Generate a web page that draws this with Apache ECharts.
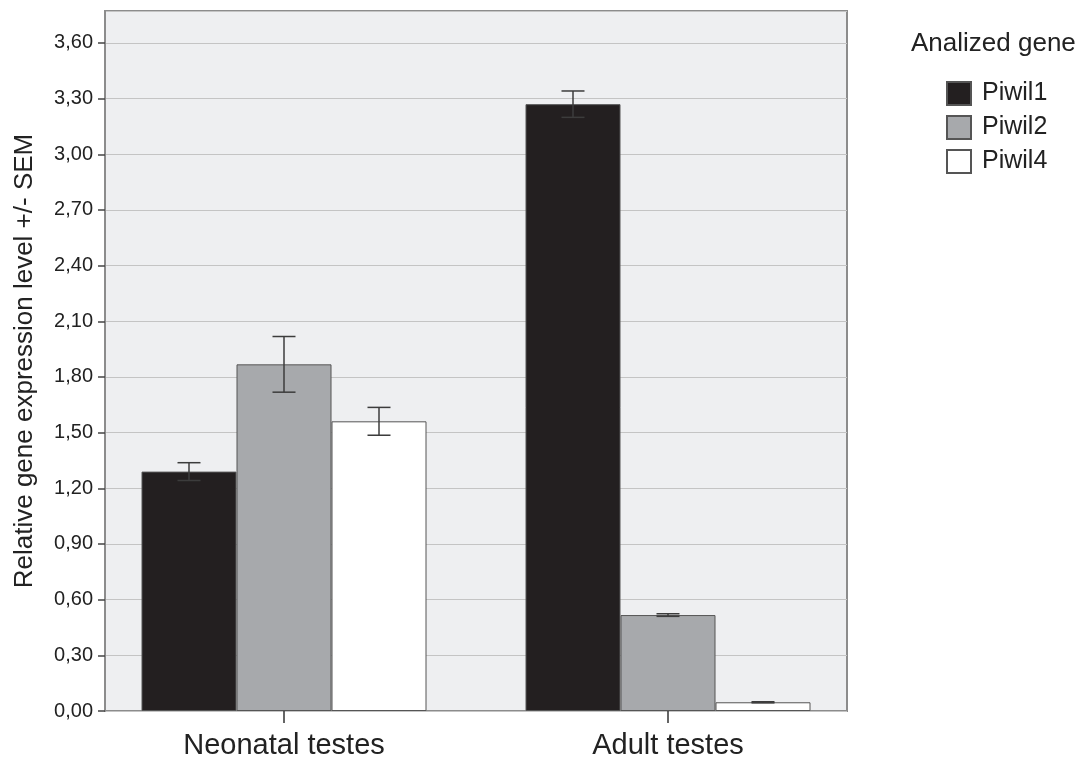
<!DOCTYPE html>
<html>
<head>
<meta charset="utf-8">
<script src="https://cdn.jsdelivr.net/npm/echarts@6/dist/echarts.min.js"></script>
<style>html,body{margin:0;padding:0;background:#fff;}#c{width:1081px;height:760px;}</style>
</head>
<body>
<div id="c"></div>
<script>
const categories = ['Neonatal testes', 'Adult testes'];
const genes = ['Piwil1', 'Piwil2', 'Piwil4'];
const piwil1 = [1.29, 3.27];
const piwil2 = [1.868, 0.517];
const piwil4 = [1.561, 0.047];
const sem1 = [0.048, 0.071];
const sem2 = [0.15, 0.007];
const sem4 = [0.075, 0.003];
const yTicks = [0, 0.3, 0.6, 0.9, 1.2, 1.5, 1.8, 2.1, 2.4, 2.7, 3.0, 3.3, 3.6];

const FONT = 'Liberation Sans, Arial, sans-serif';
const BAR_W = 95;
const colors = ['#231f20', '#a7a9ac', '#ffffff'];
const means = [piwil1, piwil2, piwil4];
const sems = [sem1, sem2, sem4];
const Y_MAX = 3.772;

const chart = echarts.init(document.getElementById('c'));

const barSeries = genes.map((g, i) => ({
  name: g, type: 'bar', xAxisIndex: 1, yAxisIndex: 1,
  data: means[i], barWidth: BAR_W, barGap: '0%',
  itemStyle: { color: colors[i], borderColor: '#555', borderWidth: 1 },
  z: 2
}));

const errSeries = genes.map((g, i) => ({
  type: 'custom', xAxisIndex: 1, yAxisIndex: 1, z: 5, silent: true,
  data: categories.map((c, k) => [k, means[i][k], sems[i][k]]),
  renderItem: function (params, api) {
    const k = api.value(0), m = api.value(1), s = api.value(2);
    const top = api.coord([k, m + s]);
    const bot = api.coord([k, m - s]);
    const x = top[0] + (i - 1) * BAR_W;
    const cw = 11.5;
    const st = { stroke: '#3c3c3c', lineWidth: 1.5 };
    return { type: 'group', children: [
      { type: 'line', shape: { x1: x, y1: top[1], x2: x, y2: bot[1] }, style: st },
      { type: 'line', shape: { x1: x - cw, y1: top[1], x2: x + cw, y2: top[1] }, style: st },
      { type: 'line', shape: { x1: x - cw, y1: bot[1], x2: x + cw, y2: bot[1] }, style: st }
    ]};
  }
}));

chart.setOption({
  animation: false,
  backgroundColor: '#ffffff',
  title: {
    text: 'Analized gene', left: 911, top: 31, padding: 0,
    textStyle: { fontFamily: FONT, fontSize: 26, fontWeight: 'normal', color: '#222' }
  },
  legend: {
    data: genes, orient: 'vertical', left: 946, top: 81, padding: 0,
    itemWidth: 24, itemHeight: 23, itemGap: 9, icon: 'rect',
    textStyle: { fontFamily: FONT, fontSize: 25, color: '#222', padding: [0, 0, 0, 6] }
  },
  grid: [
    { left: 105, top: 11, width: 742, height: 700, show: true,
      backgroundColor: '#eeeff1', borderColor: '#8c8c8c', borderWidth: 2 },
    { left: 92, top: 11, width: 768, height: 700, show: false }
  ],
  xAxis: [
    { gridIndex: 0, type: 'category', data: categories, show: false },
    { gridIndex: 1, type: 'category', data: categories, boundaryGap: true,
      axisLine: { show: false },
      axisTick: { show: true, alignWithLabel: true, length: 12, lineStyle: { color: '#333', width: 1.5 } },
      axisLabel: { fontFamily: FONT, fontSize: 29, color: '#222', margin: 20 } }
  ],
  yAxis: [
    { gridIndex: 0, type: 'value', min: 0, max: Y_MAX, interval: 0.3,
      axisLine: { show: true, lineStyle: { color: '#8c8c8c', width: 2 } },
      axisTick: { show: true, length: 7, lineStyle: { color: '#444', width: 1.5 } },
      axisLabel: { fontFamily: FONT, fontSize: 20, color: '#222', margin: 12, showMaxLabel: false,
        formatter: v => yTicks.some(t => Math.abs(t - v) < 1e-6) ? v.toFixed(2).replace('.', ',') : '' },
      splitLine: { show: true, lineStyle: { color: '#c4c4c4', width: 1.2 } },
      name: 'Relative gene expression level +/- SEM', nameLocation: 'middle', nameGap: 67,
      nameTextStyle: { fontFamily: FONT, fontSize: 26, color: '#222' } },
    { gridIndex: 1, type: 'value', min: 0, max: Y_MAX, show: false, splitLine: { show: false } }
  ],
  series: [...barSeries, ...errSeries]
});
</script>
</body>
</html>
